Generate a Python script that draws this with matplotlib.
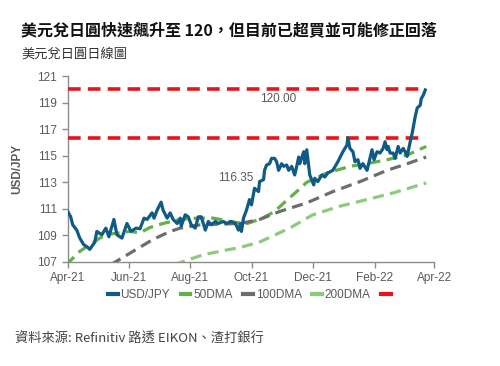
import matplotlib
matplotlib.use('Agg')
import matplotlib.pyplot as plt
import matplotlib.dates as mdates
from matplotlib.lines import Line2D
import pandas as pd

# USD/JPY daily-ish readings
usd_dates = ['2021-04-01', '2021-04-04', '2021-04-06', '2021-04-10', '2021-04-13', '2021-04-17',
             '2021-04-21', '2021-04-23', '2021-04-28', '2021-04-30', '2021-05-05', '2021-05-09',
             '2021-05-12', '2021-05-17', '2021-05-20', '2021-05-25', '2021-05-30', '2021-06-03',
             '2021-06-08', '2021-06-12', '2021-06-16', '2021-06-19', '2021-06-24', '2021-06-26',
             '2021-06-29', '2021-07-03', '2021-07-05', '2021-07-09', '2021-07-12', '2021-07-15',
             '2021-07-19', '2021-07-22', '2021-07-23', '2021-07-27', '2021-07-30', '2021-08-02',
             '2021-08-06', '2021-08-09', '2021-08-12', '2021-08-16', '2021-08-19', '2021-08-22',
             '2021-08-26', '2021-08-29', '2021-09-03', '2021-09-06', '2021-09-11', '2021-09-15',
             '2021-09-18', '2021-09-20', '2021-09-21', '2021-09-23', '2021-09-26', '2021-09-29',
             '2021-10-01', '2021-10-04', '2021-10-08', '2021-10-09', '2021-10-13', '2021-10-14',
             '2021-10-16', '2021-10-19', '2021-10-21', '2021-10-24', '2021-10-26', '2021-10-28',
             '2021-10-31', '2021-11-02', '2021-11-05', '2021-11-07', '2021-11-10', '2021-11-13',
             '2021-11-15', '2021-11-17', '2021-11-18', '2021-11-22', '2021-11-23', '2021-11-25',
             '2021-11-28', '2021-12-02', '2021-12-03', '2021-12-06', '2021-12-10', '2021-12-13',
             '2021-12-16', '2021-12-21', '2021-12-26', '2021-12-31', '2022-01-04', '2022-01-05',
             '2022-01-07', '2022-01-10', '2022-01-12', '2022-01-15', '2022-01-17', '2022-01-20',
             '2022-01-24', '2022-01-25', '2022-01-29', '2022-01-31', '2022-02-03', '2022-02-06',
             '2022-02-09', '2022-02-11', '2022-02-13', '2022-02-14', '2022-02-16', '2022-02-19',
             '2022-02-21', '2022-02-24', '2022-02-26', '2022-03-01', '2022-03-03', '2022-03-05',
             '2022-03-08', '2022-03-10', '2022-03-13', '2022-03-15', '2022-03-18', '2022-03-19',
             '2022-03-21', '2022-03-23']
usd_jpy = [110.8, 110.4, 109.8, 109.4, 108.8, 108.3,
           108.1, 107.95, 108.5, 109.3, 109.05, 109.55,
           108.9, 110.2, 109.05, 108.8, 109.9, 109.3,
           109.55, 109.5, 110.3, 110.2, 110.7, 110.3,
           110.9, 111.5, 110.9, 110.3, 110.7, 110.2,
           109.9, 110.3, 109.7, 110.55, 110.4, 109.8,
           109.55, 110.4, 110.4, 109.4, 110.05, 109.8,
           110.05, 109.9, 110.05, 109.9, 110.05, 109.9,
           109.4, 109.9, 109.3, 110.3, 110.9, 111.7,
           111.3, 112.55, 112.3, 113.05, 113.2, 113.9,
           114.3, 114.4, 114.8, 114.8, 114.55, 113.9,
           114.4, 114.2, 114.3, 113.9, 114.2, 113.55,
           114.2, 114.9, 114.4, 115.3, 114.4, 115.45,
           113.55, 112.8, 113.3, 113.05, 113.55, 113.4,
           113.7, 113.9, 114.55, 115.3, 115.8, 116.35,
           115.55, 115.3, 114.55, 114.7, 114.05, 114.4,
           113.9, 114.2, 115.45, 114.7, 115.3, 115.2,
           115.55, 116.05, 115.45, 115.7, 115.2, 115.2,
           114.8, 115.7, 115.2, 115.55, 115.3, 114.95,
           116.05, 116.7, 117.95, 118.6, 118.8, 119.3,
           119.55, 119.95]

dma50_dates = ['2021-04-01', '2021-04-03', '2021-04-13', '2021-04-23', '2021-05-03', '2021-05-13',
               '2021-05-23', '2021-06-02', '2021-06-12', '2021-06-22', '2021-07-05', '2021-07-22',
               '2021-08-08', '2021-08-24', '2021-09-13', '2021-09-27', '2021-10-12', '2021-10-24',
               '2021-11-03', '2021-11-15', '2021-11-25', '2021-12-15', '2022-01-07', '2022-01-24',
               '2022-02-13', '2022-03-05', '2022-03-24']
dma50 = [106.7, 107.05, 107.8, 108.3, 108.8, 109.1,
         109.2, 109.3, 109.2, 109.6, 109.9, 110.2,
         110.3, 110.3, 110.0, 109.9, 110.3, 110.8,
         111.5, 112.3, 113.0, 113.7, 114.2, 114.4,
         114.7, 115.05, 115.7]

dma100_dates = ['2021-05-14', '2021-06-05', '2021-06-25', '2021-07-12', '2021-07-22', '2021-08-11',
                '2021-08-31', '2021-09-20', '2021-10-09', '2021-10-29', '2021-11-25', '2021-12-21',
                '2022-01-17', '2022-02-13', '2022-03-05', '2022-03-24']
dma100 = [106.8, 107.8, 108.7, 109.3, 109.55, 109.8,
          109.85, 109.9, 110.2, 110.8, 111.45, 112.3,
          113.05, 113.9, 114.4, 114.9]

dma200_dates = ['2021-07-16', '2021-08-14', '2021-09-06', '2021-09-20', '2021-10-09', '2021-10-29',
                '2021-11-08', '2021-12-01', '2021-12-28', '2022-01-24', '2022-02-19', '2022-03-24']
dma200 = [106.8, 107.55, 107.9, 108.1, 108.5, 109.2,
          109.55, 110.55, 111.2, 111.7, 112.2, 112.95]

levels = [120.00, 116.35]

names = ['USD/JPY', '50DMA', '100DMA', '200DMA', '']
colors = ['#0f5b86', '#62b146', '#6d6d6d', '#8ccb7c', '#e8141b']

cjk = ['Noto Sans CJK TC', 'DejaVu Sans']
plt.rcParams['font.family'] = ['Liberation Sans', 'DejaVu Sans']

fig = plt.figure(figsize=(5.0, 3.66), dpi=100)
ax = fig.add_axes([0.1354, 0.2842, 0.7332, 0.5081])

ud = pd.to_datetime(usd_dates)
ax.plot(ud, usd_jpy, color=colors[0], lw=2.3, zorder=5)
ax.plot(pd.to_datetime(dma50_dates), dma50, color=colors[1], lw=2.3,
        dashes=(3.5, 2), zorder=3)
ax.plot(pd.to_datetime(dma100_dates), dma100, color=colors[2], lw=2.3,
        dashes=(3.5, 2), zorder=3)
ax.plot(pd.to_datetime(dma200_dates), dma200, color=colors[3], lw=2.3,
        dashes=(3.5, 2), zorder=3)
for lv in levels:
    ax.plot([ud[0], ud[-1]], [lv, lv], color=colors[4], lw=2.6, dashes=(3.5, 2), zorder=4)

ax.text(pd.Timestamp('2021-10-28'), levels[0] - 0.25, '120.00', color='#595959',
        fontsize=8.5, ha='center', va='top')
ax.text(pd.Timestamp('2021-09-15'), 113.3, '116.35', color='#595959',
        fontsize=8.5, ha='center', va='center')

ax.set_xlim(pd.Timestamp('2021-04-01'), pd.Timestamp('2022-04-01'))
ax.set_ylim(107, 121)
ax.set_yticks(range(107, 122, 2))
ax.xaxis.set_major_locator(mdates.MonthLocator(bymonth=[2, 4, 6, 8, 10, 12]))
ax.xaxis.set_major_formatter(mdates.DateFormatter('%b-%y'))

for s in ['top', 'right']:
    ax.spines[s].set_visible(False)
for s in ['left', 'bottom']:
    ax.spines[s].set_color('#8c8c8c')
    ax.spines[s].set_linewidth(1.0)
ax.tick_params(colors='#8c8c8c', labelcolor='#595959', labelsize=8.5, length=4, width=1.0)
ax.set_ylabel('USD/JPY', fontsize=8.5, fontweight='bold', color='#595959', labelpad=10)

handles = [Line2D([], [], color=c, lw=3) for c in colors]
ax.legend(handles, names, loc='upper center', bbox_to_anchor=(0.5, -0.09), ncol=5,
          frameon=False, fontsize=8.5, handlelength=0.8, handletextpad=0.25,
          columnspacing=0.9, labelcolor='#595959')

fig.text(0.042, 0.915, '美元兌日圓快速飆升至 120，但目前已超買並可能修正回落',
         family=cjk, fontsize=11.5, fontweight='bold', color='#111111', va='center')
fig.text(0.042, 0.852, '美元兌日圓日線圖', family=cjk, fontsize=9.5,
         color='#333333', va='center')
fig.text(0.03, 0.073, '資料來源: Refinitiv 路透 EIKON、渣打銀行', family=cjk,
         fontsize=9.5, color='#444444', va='center')

fig.savefig('out.png', dpi=100)
